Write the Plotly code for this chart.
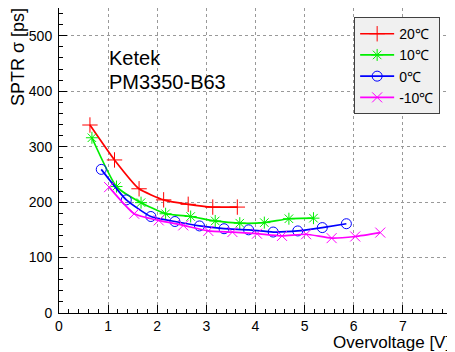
import plotly.graph_objects as go

x20 = [0.63, 1.13, 1.63, 2.13, 2.63, 3.13, 3.63]
y20 = [339, 276, 224, 204, 196, 191, 191]

x10 = [0.67, 1.17, 1.67, 2.17, 2.68, 3.18, 3.68, 4.18, 4.68, 5.18]
y10 = [316, 228, 199, 179, 174, 166, 162, 163, 170, 171]

x0 = [0.86, 1.37, 1.87, 2.36, 2.86, 3.36, 3.86, 4.36, 4.86, 5.36, 5.85]
y0 = [259, 204, 174, 165, 157, 152, 150, 146, 148, 154, 161]

xm10 = [1.02, 1.53, 2.03, 2.53, 3.04, 3.53, 4.03, 4.54, 5.03, 5.55, 6.03, 6.54]
ym10 = [227, 179, 167, 158, 148, 146, 143, 139, 142, 135, 138, 145]

series = [
    ("20℃", x20, y20, "#ff0000", "cross-thin-open", 11),
    ("10℃", x10, y10, "#00ee00", "asterisk-open", 10),
    ("0℃", x0, y0, "#0000ff", "circle-open", 10),
    ("-10℃", xm10, ym10, "#ff00ff", "x-thin-open", 10),
]

FONT = "Liberation Sans, Arial, Helvetica, sans-serif"

fig = go.Figure()
for name, xs, ys, col, sym, sz in series:
    fig.add_trace(go.Scatter(
        x=xs, y=ys, name=name, mode="lines+markers",
        line=dict(color=col, width=1.7, shape="spline", smoothing=0.5),
        marker=dict(symbol=sym, size=sz, color=col, line=dict(color=col, width=1.0)),
    ))

# page body has an 8px default margin; figure is sized/placed to compensate
fig.update_layout(
    width=447, height=344,
    margin=dict(l=51, r=3, t=0, b=39, autoexpand=False),
    paper_bgcolor="white", plot_bgcolor="white",
    font=dict(family=FONT, size=14, color="black"),
    showlegend=True,
    legend=dict(
        x=0.751, y=0.970, xanchor="left", yanchor="top",
        bgcolor="#f0f0f0", bordercolor="#404040", borderwidth=1,
        font=dict(size=14, family=FONT),
        tracegroupgap=0, itemwidth=34,
    ),
    xaxis=dict(
        range=[0, 8], dtick=1, tick0=0, automargin=False,
        showgrid=True, gridcolor="#999999", griddash="dot", gridwidth=1,
        showline=True, linecolor="black", linewidth=1, mirror=True,
        ticks="inside", ticklen=8, tickcolor="black",
        minor=dict(dtick=0.2, ticks="inside", ticklen=4, tickcolor="black", showgrid=False),
        zeroline=False, tickfont=dict(size=14), ticklabelstandoff=0,
    ),
    yaxis=dict(
        range=[0, 550], dtick=100, tick0=0, automargin=False,
        showgrid=True, gridcolor="#999999", griddash="dot", gridwidth=1,
        showline=True, linecolor="black", linewidth=1, mirror=True,
        ticks="inside", ticklen=8, tickcolor="black",
        minor=dict(dtick=20, ticks="inside", ticklen=4, tickcolor="black", showgrid=False),
        zeroline=False, tickfont=dict(size=14), ticklabelstandoff=3,
    ),
    annotations=[
        dict(text="SPTR σ [ps]", xref="paper", yref="paper", x=-0.104, y=1.0066,
             xanchor="center", yanchor="top", textangle=-90, showarrow=False,
             font=dict(size=18, family=FONT)),
        dict(text="Overvoltage [V]", xref="paper", yref="paper", x=1.0, y=-0.097,
             xanchor="right", yanchor="middle", showarrow=False,
             font=dict(size=17, family=FONT)),
        dict(text="Ketek", xref="paper", yref="paper", x=0.122, y=0.836,
             xanchor="left", yanchor="middle", showarrow=False,
             font=dict(size=20, family=FONT)),
        dict(text="PM3350-B63", xref="paper", yref="paper", x=0.122, y=0.757,
             xanchor="left", yanchor="middle", showarrow=False,
             font=dict(size=20, family=FONT)),
    ],
)

fig.write_html("out.html")
